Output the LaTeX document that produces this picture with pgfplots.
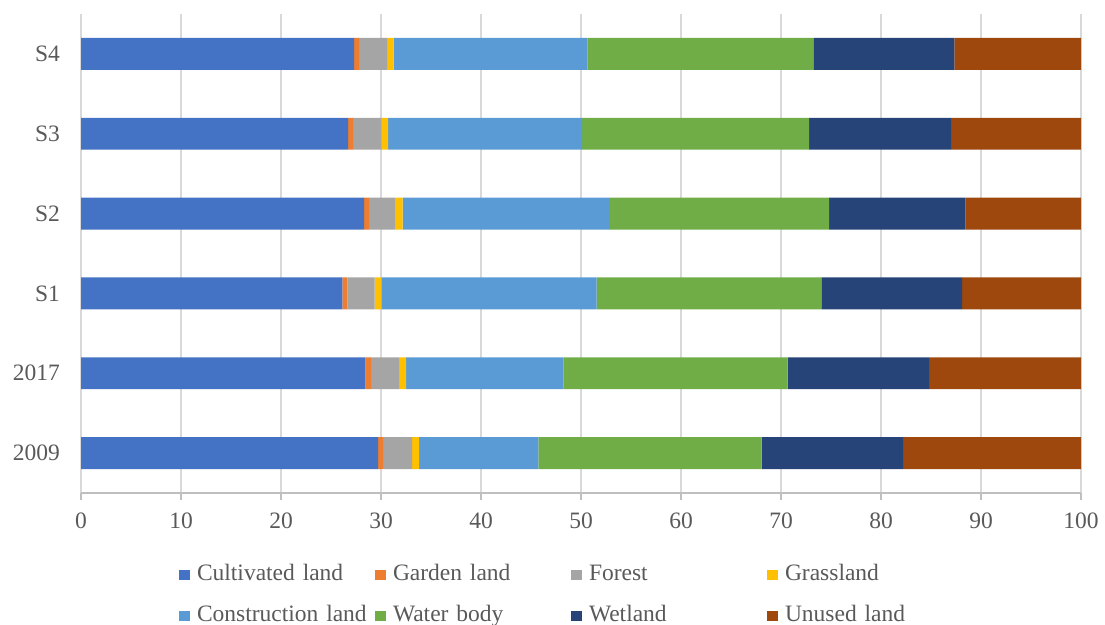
\documentclass[border=0pt]{standalone}
\usepackage{pgfplots}
\pgfplotsset{compat=1.18}
\usepackage{pgfplotstable}
\usepackage{fontspec}
\setmainfont{Liberation Serif}
\newcommand\ff{\fontsize{23.5bp}{28bp}\selectfont}
\definecolor{cCult}{HTML}{4472C4}
\definecolor{cGard}{HTML}{ED7D31}
\definecolor{cFore}{HTML}{A5A5A5}
\definecolor{cGras}{HTML}{FFC000}
\definecolor{cCons}{HTML}{5B9BD5}
\definecolor{cWate}{HTML}{70AD47}
\definecolor{cWetl}{HTML}{264478}
\definecolor{cUnus}{HTML}{9E480E}
\definecolor{txt}{HTML}{595959}
\definecolor{grd}{HTML}{D9D9D9}
\definecolor{axl}{HTML}{BFBFBF}
\pgfplotstableread{
y cult gard fore gras cons wate wetl unus
0 29.70 0.50 2.90 0.70 11.93 22.34 14.13 17.80
1 28.43 0.57 2.80 0.70 15.73 22.44 14.13 15.20
2 26.13 0.50 2.74 0.66 21.54 22.46 14.07 11.90
3 28.30 0.50 2.67 0.70 20.63 22.00 13.63 11.57
4 26.70 0.50 2.87 0.63 19.40 22.70 14.20 13.00
5 27.30 0.50 2.80 0.67 19.36 22.60 14.10 12.67
}\datatable
\begin{document}
\ff
\begin{tikzpicture}
\path[use as bounding box] (0,0) rectangle (1105bp,625bp);
\begin{axis}[
  at={(81bp,132bp)}, anchor=south west,
  scale only axis, width=1000bp, height=479bp,
  xbar stacked, bar width=0.4,
  xmin=0, xmax=100, ymin=-0.5, ymax=5.5,
  xtick={0,10,...,100},
  ytick={0,1,2,3,4,5},
  yticklabels={2009,2017,S1,S2,S3,S4},
  axis x line*=bottom, axis y line*=left,
  x axis line style={draw=axl, line width=1.5bp},
  y axis line style={draw=none},
  xmajorgrids, major grid style={draw=grd, line width=1.5bp},
  tick align=outside, major tick length=7bp,
  x tick style={draw=axl, line width=1.2bp},
  y tick style={draw=none},
  /pgf/number format/assume math mode=true,
  tick label style={font=\ff, text=txt},
  xticklabel style={yshift=-5bp},
  yticklabel style={xshift=-6bp},
  legend columns=4,
  legend style={draw=none, fill=none, inner sep=0pt, outer sep=0pt,
    at={(0.098,-0.1461)}, anchor=north west, font=\ff, text=txt,
    /tikz/every odd column/.style={column sep=7bp},
    /tikz/every even column/.style={column sep=0bp},
    row sep=17.5bp,
    nodes={inner sep=0pt, text width=178bp, align=left, text height=0.75em, text depth=0.25em}},
  legend image code/.code={\fill[#1] (0bp,-5.5bp) rectangle (11bp,5bp);},
]
\addplot[fill=cCult, draw=none] table[x=cult, y=y] {\datatable};
\addplot[fill=cGard, draw=none] table[x=gard, y=y] {\datatable};
\addplot[fill=cFore, draw=none] table[x=fore, y=y] {\datatable};
\addplot[fill=cGras, draw=none] table[x=gras, y=y] {\datatable};
\addplot[fill=cCons, draw=none] table[x=cons, y=y] {\datatable};
\addplot[fill=cWate, draw=none] table[x=wate, y=y] {\datatable};
\addplot[fill=cWetl, draw=none] table[x=wetl, y=y] {\datatable};
\addplot[fill=cUnus, draw=none] table[x=unus, y=y] {\datatable};
\legend{Cultivated land, Garden land, Forest, Grassland, Construction land, Water body, Wetland, Unused land}
\end{axis}
\end{tikzpicture}
\end{document}
